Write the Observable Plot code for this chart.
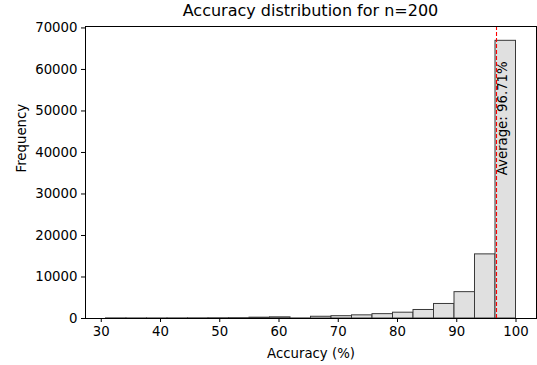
<!DOCTYPE html>
<html><head><meta charset="utf-8">
<script src="https://cdn.jsdelivr.net/npm/d3@7"></script>
<script src="https://cdn.jsdelivr.net/npm/@observablehq/plot@0.6"></script>
<style>
body{margin:0;background:#fff;font-family:"DejaVu Sans",sans-serif;}
#title{position:relative;height:20px;width:537px;}
#title span{position:absolute;left:0;width:621px;text-align:center;top:1px;font-size:16px;line-height:20px;color:#000;white-space:nowrap;}
svg{display:block;}
</style></head><body>
<div id="title"><span>Accuracy distribution for n=200</span></div>
<div id="chart"></div>
<script>
// bin edges (accuracy %) and counts
const binStarts = [30.8, 34.26, 37.72, 41.18, 44.64, 48.1, 51.56, 55.02, 58.48, 61.94, 65.4, 68.86, 72.32, 75.78, 79.24, 82.7, 86.16, 89.62, 93.08, 96.54];
const binEnds   = [34.26, 37.72, 41.18, 44.64, 48.1, 51.56, 55.02, 58.48, 61.94, 65.4, 68.86, 72.32, 75.78, 79.24, 82.7, 86.16, 89.62, 93.08, 96.54, 100];
const counts    = [30, 20, 20, 30, 40, 60, 80, 200, 280, 20, 420, 560, 760, 1050, 1400, 2050, 3500, 6350, 15450, 66900];
const xTicks = [30, 40, 50, 60, 70, 80, 90, 100];
const yTicks = [0, 10000, 20000, 30000, 40000, 50000, 60000, 70000];
const average = 96.71;
const averageLabel = "Average: 96.71%";
const averageLabelY = 34500;

const bins = binStarts.map((s, i) => ({x1: s, x2: binEnds[i], y: counts[i]}));
const font = 13.3;

const chart = Plot.plot({
  width: 537,
  height: 345,
  marginTop: 6,
  marginLeft: 85,
  marginRight: 1,
  marginBottom: 47,
  style: {fontFamily: "DejaVu Sans, sans-serif", fontSize: font + "px", color: "#000", background: "#fff"},
  x: {domain: [27.34, 103.46]},
  y: {domain: [0, 70350]},
  marks: [
    Plot.rectY(bins, {x1: "x1", x2: "x2", y: "y", fill: "#e0e0e0", stroke: "#3a3a3a", strokeWidth: 1}),
    Plot.ruleX([average], {stroke: "red", strokeWidth: 1.1, strokeDasharray: "4,2"}),
    Plot.text([averageLabel], {x: average, y: averageLabelY, text: d => d, rotate: -90, textAnchor: "start", lineAnchor: "top", dx: 1, fontSize: font, fill: "#000"}),
    Plot.frame({stroke: "#000", strokeWidth: 1}),
    Plot.axisX({ticks: xTicks, tickSize: 4, tickPadding: 4, fontSize: font, label: null, tickFormat: d3.format("d")}),
    Plot.axisY({ticks: yTicks, tickSize: 4, tickPadding: 4, fontSize: font, label: null, tickFormat: d3.format("d")}),
    Plot.text(["Accuracy (%)"], {frameAnchor: "bottom", dy: 35, lineAnchor: "middle", text: d => d, fontSize: font, fill: "#000"}),
    Plot.text(["Frequency"], {frameAnchor: "left", dx: -64, rotate: -90, lineAnchor: "middle", text: d => d, fontSize: font, fill: "#000"})
  ]
});
document.getElementById("chart").appendChild(chart);
</script>
</body></html>
